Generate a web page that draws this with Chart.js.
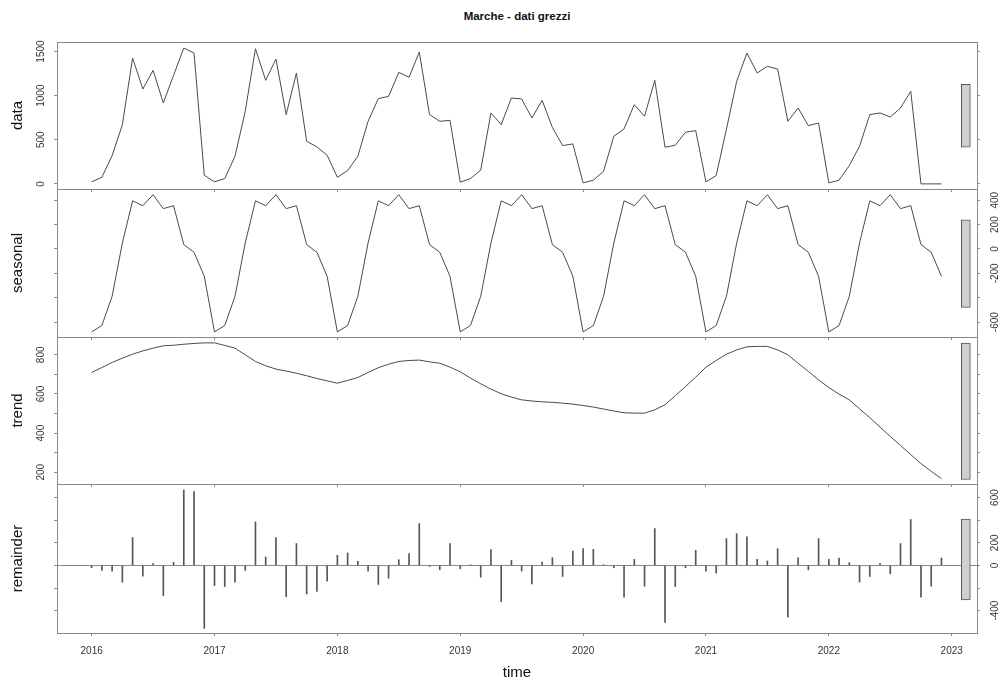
<!DOCTYPE html>
<html>
<head>
<meta charset="utf-8">
<title>Marche - dati grezzi</title>
<script src="https://cdn.jsdelivr.net/npm/chart.js@4.4.1/dist/chart.umd.min.js"></script>
<style>
  html, body { margin: 0; padding: 0; background: #fff; }
  #wrap { position: relative; width: 1004px; height: 684px; overflow: hidden; font-family: "Liberation Sans", Arial, sans-serif; }
  #wrap canvas { position: absolute; left: 0; }
  #title { position: absolute; left: 317px; width: 400px; top: 9px; text-align: center; font-weight: bold; font-size: 11.5px; line-height: 14px; color: #111; }
</style>
</head>
<body>
<div id="wrap">
  <div id="title">Marche - dati grezzi</div>
  <canvas id="dataPanel"></canvas>
  <canvas id="seasonalPanel"></canvas>
  <canvas id="trendPanel"></canvas>
  <canvas id="remainderPanel"></canvas>
</div>
<script>
/**
 * STL decomposition of the monthly series, Jan 2016 - Dec 2022.
 * Four stacked panels drawn like R's plot.stl.
 */

const startYear = 2016;
const freq = 12;

const rawData = [
    23, 75, 320, 670, 1426, 1075, 1287, 917, 1230, 1540, 1483, 98,
    23, 60, 313, 822, 1532, 1173, 1415, 785, 1257, 483, 419, 325,
    75, 151, 313, 709, 966, 992, 1264, 1208, 1494, 785, 709, 720,
    19, 60, 155, 804, 672, 974, 962, 747, 947, 640, 434, 453,
    11, 42, 143, 540, 623, 898, 766, 1174, 415, 438, 585, 604,
    23, 94, 620, 1162, 1483, 1257, 1332, 1302, 709, 860, 660, 690,
    11, 42, 208, 426, 785, 804, 758, 860, 1049, 0, 0, 0
];

const seasonal = [
    -680, -628, -388, 49, 395, 355, 445, 331, 355, 36, -27, -224,
    -680, -628, -388, 49, 395, 355, 445, 331, 355, 36, -27, -224,
    -680, -628, -388, 49, 395, 355, 445, 331, 355, 36, -27, -224,
    -680, -628, -388, 49, 395, 355, 445, 331, 355, 36, -27, -224,
    -680, -628, -388, 49, 395, 355, 445, 331, 355, 36, -27, -224,
    -680, -628, -388, 49, 395, 355, 445, 331, 355, 36, -27, -224,
    -680, -628, -388, 49, 395, 355, 445, 331, 355, 36, -27, -224
];

const trend = [
    710, 735, 761, 783, 803, 820, 834, 846, 849, 854, 858, 861,
    861, 848, 834, 800, 766, 744, 727, 717, 706, 693, 679, 667,
    655, 669, 684, 710, 734, 752, 766, 771, 773, 764, 757, 737,
    713, 681, 652, 625, 601, 584, 570, 564, 560, 557, 553, 548,
    541, 533, 523, 513, 504, 502, 502, 519, 545, 591, 638, 686,
    737, 771, 803, 825, 841, 843, 843, 825, 800, 757, 715, 672,
    633, 599, 570, 524, 479, 431, 383, 337, 290, 244, 205, 167
];

const remainder = [
    -20, -44, -50, -148, 246, -95, 15, -267, 27, 667, 652, -557,
    -178, -187, -148, -44, 385, 74, 246, -276, 193, -252, -231, -139,
    89, 110, 36, -50, -169, -113, 50, 104, 370, -9, -39, 193,
    -30, 5, -104, 139, -320, 44, -50, -163, 30, 68, -98, 127,
    148, 142, 6, -21, -281, 53, -184, 326, -504, -187, -21, 133,
    -50, -68, 237, 281, 252, 53, 39, 148, -459, 68, -39, 237,
    53, 65, 24, -148, -98, 15, -74, 193, 406, -281, -184, 65
];

// axis ticks and the labels R actually printed
const yearTicks = [2016, 2017, 2018, 2019, 2020, 2021, 2022, 2023];
const dataTicks = [0, 500, 1000, 1500];
const dataLabels = [0, 500, 1000, 1500];
const seasonalTicks = [-600, -400, -200, 0, 200, 400];
const seasonalLabels = [-600, -200, 0, 200, 400];
const trendTicks = [200, 300, 400, 500, 600, 700, 800];
const trendLabels = [200, 400, 600, 800];
const remainderTicks = [-400, -200, 0, 200, 400, 600];
const remainderLabels = [-400, 0, 200, 600];

// grey range bars at the right edge
const rangeBarX = 2023.115;
const dataRange = [417, 1128];
const seasonalRange = [-479, 240];
const trendRange = [163, 860];
const remainderRange = [-305, 409];

const X_MIN = 2015.718, X_MAX = 2023.206;
const PANEL_LEFT = 57, PANEL_RIGHT = 977, PAD_TOP = 2, WIDTH = 1004;
const FONT = '"Liberation Sans", Arial, sans-serif';

Chart.defaults.font.family = FONT;

const panels = [
    { id: 'dataPanel', title: 'data', kind: 'line', values: rawData, range: dataRange,
      ticks: dataTicks, labels: dataLabels, side: 'left', min: -58, max: 1608, top: 42, bottom: 189, axisH: 5 },
    { id: 'seasonalPanel', title: 'seasonal', kind: 'line', values: seasonal, range: seasonalRange,
      ticks: seasonalTicks, labels: seasonalLabels, side: 'right', min: -722, max: 492, top: 189, bottom: 337, axisH: 5 },
    { id: 'trendPanel', title: 'trend', kind: 'line', values: trend, range: trendRange,
      ticks: trendTicks, labels: trendLabels, side: 'left', min: 140, max: 891, top: 337, bottom: 484, axisH: 5 },
    { id: 'remainderPanel', title: 'remainder', kind: 'bar', values: remainder, range: remainderRange,
      ticks: remainderTicks, labels: remainderLabels, side: 'right', min: -598, max: 720, top: 484, bottom: 633, axisH: 51,
      zeroLine: true, showYears: true },
];

// box around the panel, rotated tick labels and the panel name
const rPanelPlugin = {
    id: 'rPanel',
    afterDraw(chart, args, opts) {
        const { ctx, chartArea: a } = chart;
        const yScale = chart.scales.y;
        ctx.save();
        ctx.strokeStyle = '#888';
        ctx.lineWidth = 1;
        ctx.strokeRect(a.left + 0.5, a.top + 0.5, a.right - a.left, a.bottom - a.top);

        ctx.fillStyle = '#333';
        ctx.font = '10px ' + FONT;
        ctx.textAlign = 'center';
        ctx.textBaseline = 'alphabetic';
        const lx = opts.side === 'left' ? 43.5 : 998;
        opts.labels.forEach(v => {
            ctx.save();
            ctx.translate(lx, yScale.getPixelForValue(v));
            ctx.rotate(-Math.PI / 2);
            ctx.fillText(String(v), 0, 0);
            ctx.restore();
        });

        ctx.fillStyle = '#111';
        ctx.font = '15px ' + FONT;
        ctx.translate(21.5, (a.top + a.bottom) / 2);
        ctx.rotate(-Math.PI / 2);
        ctx.fillText(opts.title, 0, 0);
        ctx.restore();
    }
};

function toPoints(values) {
    return values.map((v, i) => ({ x: startYear + i / freq, y: v }));
}

function yAxis(p, position) {
    const isLeft = position === 'left';
    return {
        type: 'linear',
        position,
        min: p.min,
        max: p.max,
        afterBuildTicks: s => { s.ticks = p.ticks.map(v => ({ value: v })); },
        afterFit: s => { s.width = isLeft ? PANEL_LEFT : WIDTH - PANEL_RIGHT; },
        grid: {
            drawOnChartArea: isLeft && !!p.zeroLine,
            color: c => (c.tick && c.tick.value === 0) ? '#888' : 'rgba(0,0,0,0)',
            tickColor: '#888',
            tickLength: 3,
        },
        border: { display: false },
        ticks: { display: false },
    };
}

function makePanel(p) {
    const canvas = document.getElementById(p.id);
    const h = PAD_TOP + (p.bottom - p.top) + p.axisH;
    canvas.width = WIDTH;
    canvas.height = h;
    canvas.style.width = WIDTH + 'px';
    canvas.style.height = h + 'px';
    canvas.style.top = (p.top - PAD_TOP) + 'px';

    const series = p.kind === 'bar'
        ? { type: 'bar', data: toPoints(p.values), backgroundColor: '#555', borderWidth: 0,
            barThickness: 1, grouped: false }
        : { type: 'line', data: toPoints(p.values), borderColor: '#4a4a4a', borderWidth: 1,
            pointRadius: 0, tension: 0, fill: false };

    const rangeBar = {
        type: 'bar',
        data: [{ x: rangeBarX, y: p.range }],
        backgroundColor: '#cfcfcf',
        borderColor: '#555',
        borderWidth: 1,
        borderSkipped: false,
        barThickness: 9,
        grouped: false,
    };

    new Chart(canvas, {
        type: 'line',
        data: { datasets: [series, rangeBar] },
        plugins: [rPanelPlugin],
        options: {
            responsive: false,
            animation: false,
            events: [],
            layout: { padding: { top: PAD_TOP, left: 0, right: 0, bottom: 0 } },
            plugins: {
                legend: { display: false },
                tooltip: { enabled: false },
                rPanel: { side: p.side, labels: p.labels, title: p.title },
            },
            scales: {
                x: {
                    type: 'linear',
                    position: 'bottom',
                    min: X_MIN,
                    max: X_MAX,
                    offset: false,
                    afterBuildTicks: s => { s.ticks = yearTicks.map(v => ({ value: v })); },
                    afterFit: s => { s.height = p.axisH; },
                    grid: { drawOnChartArea: false, tickLength: 3, tickColor: '#888', offset: false },
                    border: { display: false },
                    ticks: {
                        display: !!p.showYears, autoSkip: false, maxRotation: 0, padding: 9,
                        color: '#333', font: { size: 10 }, callback: v => String(v),
                    },
                    title: {
                        display: !!p.showYears, text: 'time', color: '#111',
                        font: { size: 15 }, padding: { top: 0, bottom: 2 },
                    },
                },
                y: yAxis(p, 'left'),
                y2: yAxis(p, 'right'),
            },
        },
    });
}

panels.forEach(makePanel);
</script>
</body>
</html>
